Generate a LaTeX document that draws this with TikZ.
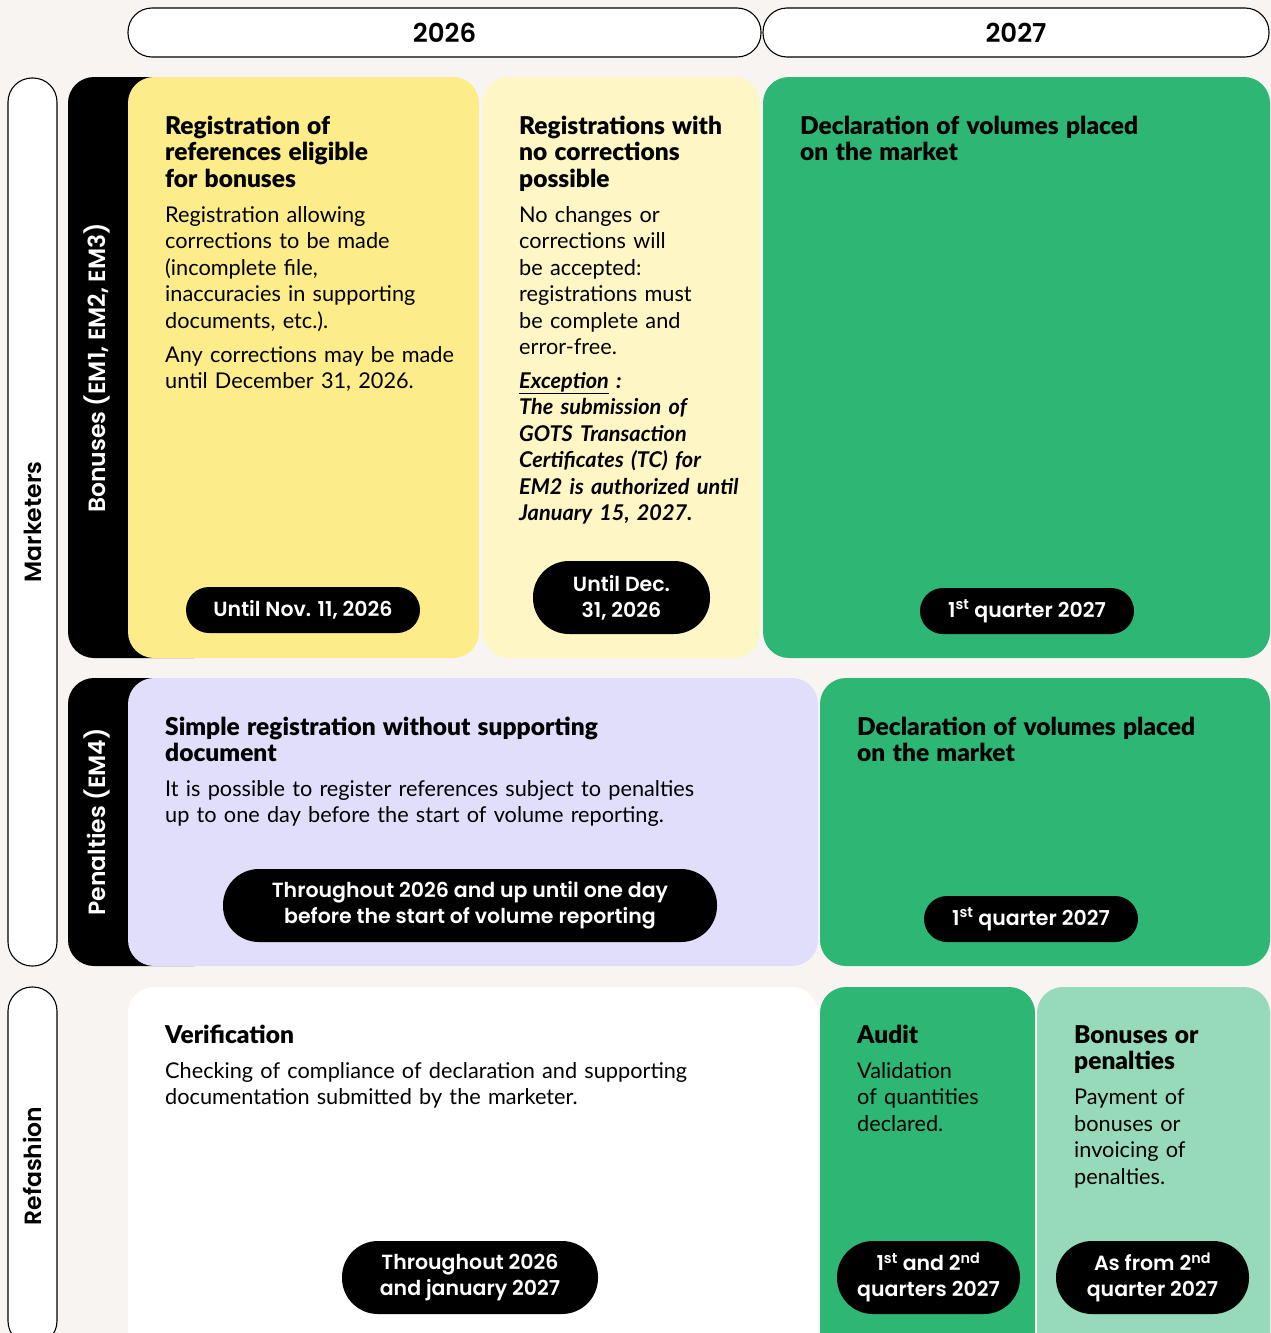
\documentclass[tikz,border=0pt]{standalone}
\usepackage{fontspec}
\setmainfont{Lato}[BoldFont={Lato Bold},BoldItalicFont={Lato Bold Italic}]
\newfontfamily\headfont{Lato Black}
\newfontfamily\popfont{Poppins}[BoldFont={Poppins SemiBold}]
\definecolor{bgcream}{HTML}{F8F4F1}
\definecolor{cardyellow}{HTML}{FDED8A}
\definecolor{cardcream}{HTML}{FEF6C5}
\definecolor{cardgreen}{HTML}{2DB674}
\definecolor{cardmint}{HTML}{97DABA}
\definecolor{cardlilac}{HTML}{E1DEFB}
\tikzstyle{card}=[rounded corners=26pt]
\tikzstyle{yearbox}=[draw=black,line width=1.1pt,fill=white,rounded corners=24pt,minimum height=49pt,inner sep=0pt,font=\popfont\bfseries\fontsize{26}{30}\selectfont]
\tikzstyle{rowpill}=[draw=black,line width=1.1pt,fill=white,rounded corners=24pt,rotate=90,minimum height=49pt,inner sep=0pt,font=\popfont\bfseries\fontsize{23.5}{26}\selectfont]
\tikzstyle{bandlabel}=[rotate=90,text=white,font=\popfont\bfseries\fontsize{23.5}{26}\selectfont]
\tikzstyle{cardtext}=[anchor=base west,inner sep=0pt,text width=420pt,align=left,font=\fontsize{21.7}{26.5}\selectfont]
\tikzstyle{datepill}=[fill=black,text=white,align=center,rounded corners=23pt,minimum height=46pt,inner sep=0pt,font=\popfont\bfseries\fontsize{20.5}{26}\selectfont]
\tikzstyle{tallpill}=[datepill,rounded corners=36pt,minimum height=73pt]
\newcommand{\cardhead}[1]{{\headfont\fontsize{24.5}{26.5}\selectfont #1}}

\begin{document}
\begin{tikzpicture}[x=1pt,y=-1pt]
    \useasboundingbox (0,0) rectangle (1271,1333);
    \fill[bgcream] (0,0) rectangle (1271,1333);
    \clip (0,0) rectangle (1271,1333);

    % years
    \node[yearbox,minimum width=633pt] (y2026) at (444.5,32.5) {2026};
    \node[yearbox,minimum width=506pt] (y2027) at (1016,32.5) {2027};

    % row labels
    \node[rowpill,minimum width=888pt] (marketers) at (32.5,522) {Marketers};
    \node[rowpill,minimum width=358pt] (refashion) at (32.5,1166) {Refashion};

    % black bands behind the cards
    \foreach \y/\Y in {77/658, 678/966}
        \fill[black,card] (68,\y) rectangle (220,\Y);
    \node[bandlabel] (bonuses) at (97,368) {Bonuses (EM1, EM2, EM3)};
    \node[bandlabel] (penalties) at (97,822) {Penalties (EM4)};

    % cards
    \foreach \x/\y/\X/\Y/\col in {128/77/479/658/cardyellow, 483/77/760/658/cardcream,
        763/77/1270/658/cardgreen, 128/678/818/966/cardlilac, 820/678/1270/966/cardgreen,
        128/987/818/1360/white, 820/987/1035/1360/cardgreen, 1037/987/1270/1360/cardmint}
        \fill[card,\col] (\x,\y) rectangle (\X,\Y);

    % card texts
    \node[cardtext] (regbonus) at (165,134) {\cardhead{Registration of\\ references eligible\\ for bonuses}\\[8.5pt]
        Registration allowing\\ corrections to be made\\ (incomplete file,\\ inaccuracies in supporting\\ documents, etc.).\\[7.5pt]
        Any corrections may be made\\ until December 31, 2026.};
    \node[cardtext] (regfinal) at (519,134) {\cardhead{Registrations with\\ no corrections\\ possible}\\[8.5pt]
        No changes or\\ corrections will\\ be accepted:\\ registrations must\\ be complete and\\ error-free.\\[7pt]
        {\bfseries\itshape \underline{Exception} :\\ The submission of\\ GOTS Transaction\\ Certificates (TC) for\\ EM2 is authorized until\\ January 15, 2027.}};
    \node[cardtext] (declbonus) at (800,134) {\cardhead{Declaration of volumes placed\\ on the market}};
    \node[cardtext,text width=600pt] (regsimple) at (165,735) {\cardhead{Simple registration without supporting\\ document}\\[8pt]
        It is possible to register references subject to penalties\\ up to one day before the start of volume reporting.};
    \node[cardtext] (declpenal) at (857,735) {\cardhead{Declaration of volumes placed\\ on the market}};
    \node[cardtext,text width=600pt] (verif) at (165,1043) {\cardhead{Verification}\\[8.5pt]
        Checking of compliance of declaration and supporting\\ documentation submitted by the marketer.};
    \node[cardtext,text width=170pt] (audit) at (857,1043) {\cardhead{Audit}\\[8.5pt]
        Validation\\ of quantities\\ declared.};
    \node[cardtext,text width=190pt] (payout) at (1074,1043) {\cardhead{Bonuses or\\ penalties}\\[8.5pt]
        Payment of\\ bonuses or\\ invoicing of\\ penalties.};

    % date pills
    \node[datepill,minimum width=234pt] (untilnov) at (303,610) {Until Nov. 11, 2026};
    \node[tallpill,minimum width=177pt] (untildec) at (621.5,597.5) {Until Dec.\\ 31, 2026};
    \node[datepill,minimum width=214pt] (qone) at (1027,611) {1\textsuperscript{st} quarter 2027};
    \node[tallpill,minimum width=494pt] (throughout) at (470,905.5) {Throughout 2026 and up until one day\\ before the start of volume reporting};
    \node[datepill,minimum width=214pt] (qonepen) at (1031,919) {1\textsuperscript{st} quarter 2027};
    \node[tallpill,minimum width=256pt] (throughjan) at (470,1277.5) {Throughout 2026\\ and january 2027};
    \node[tallpill,minimum width=183pt] (qonetwo) at (928.5,1277.5) {1\textsuperscript{st} and 2\textsuperscript{nd}\\ quarters 2027};
    \node[tallpill,minimum width=193pt] (asfrom) at (1152.5,1277.5) {As from 2\textsuperscript{nd}\\ quarter 2027};
\end{tikzpicture}
\end{document}
